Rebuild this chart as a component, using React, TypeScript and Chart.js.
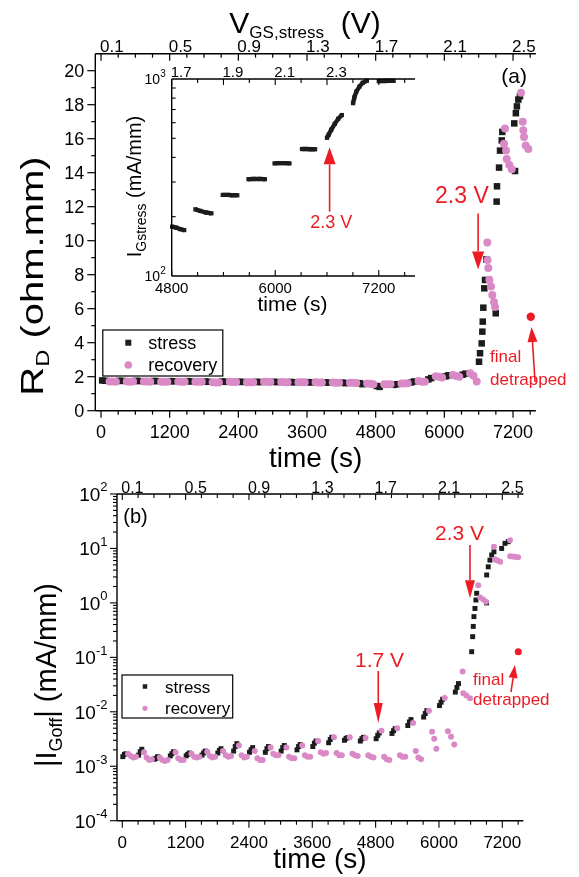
import React, { useEffect, useRef } from 'react';
import { Chart, registerables } from 'chart.js';

Chart.register(...registerables);

const FONT_FAMILY = '"Liberation Sans", Arial, Helvetica, sans-serif';
const INK = '#000000';
const STRESS_COLOR = '#1c1c1c';
const RECOVERY_COLOR = '#d98ac6';
const RED = '#ed1c24';

// ---------- axis ticks / labels ----------
const timeTicks = [0, 1200, 2400, 3600, 4800, 6000, 7200];
const voltTicks = [0.1, 0.5, 0.9, 1.3, 1.7, 2.1, 2.5];
const rdTicks = [0, 2, 4, 6, 8, 10, 12, 14, 16, 18, 20];
const ioffDecades = [-4, -3, -2, -1, 0, 1, 2];
const insetTimeTicks = [4800, 6000, 7200];
const insetVoltTicks = [1.7, 1.9, 2.1, 2.3];
const insetDecades = [2, 3];

// ---------- panel (a): R_D (ohm.mm) vs time (s) ----------
const stressTop: [number, number][] = [
  [20, 1.78], [70, 1.76], [320, 1.76], [370, 1.75], [620, 1.76], [670, 1.74], [920, 1.75], [970, 1.74],
  [1220, 1.74], [1270, 1.73], [1520, 1.74], [1570, 1.72], [1820, 1.72], [1870, 1.7], [2120, 1.72], [2170, 1.7],
  [2420, 1.7], [2470, 1.69], [2720, 1.7], [2770, 1.68], [3020, 1.7], [3070, 1.68], [3320, 1.69], [3370, 1.67],
  [3620, 1.68], [3670, 1.66], [3920, 1.67], [3970, 1.65], [4220, 1.65], [4270, 1.62], [4520, 1.62], [4570, 1.56],
  [4820, 1.45], [4870, 1.4], [5120, 1.52], [5170, 1.56], [5420, 1.66], [5470, 1.72], [5720, 1.84], [5770, 1.92],
  [6020, 2.02], [6070, 2.08], [6320, 2.12], [6370, 2.18],
  [6606, 2.88], [6624, 3.38], [6653, 3.96], [6664, 4.65], [6671, 5.24], [6681, 6.06], [6698, 7.2], [6711, 7.69], [6735, 8.9],
  [6898, 5.73], [6914, 12.3], [6920, 13.2], [6956, 14.3], [6973, 15.3], [7003, 15.9], [7013, 16.4],
  [7236, 14.1], [7222, 16.9], [7250, 17.5], [7268, 17.9], [7293, 18.3], [7322, 18.5],
];
const recoveryTop: [number, number][] = [
  [150, 1.72], [205, 1.72], [260, 1.71], [450, 1.72], [505, 1.71], [560, 1.72], [750, 1.72], [805, 1.72], [860, 1.71],
  [1050, 1.71], [1105, 1.7], [1160, 1.7], [1350, 1.72], [1405, 1.71], [1460, 1.71], [1650, 1.71], [1705, 1.7], [1760, 1.7],
  [1950, 1.67], [2005, 1.66], [2060, 1.66], [2250, 1.7], [2305, 1.69], [2360, 1.69], [2550, 1.68], [2605, 1.67], [2660, 1.67],
  [2850, 1.7], [2905, 1.7], [2960, 1.69], [3150, 1.69], [3205, 1.68], [3260, 1.68], [3450, 1.68], [3505, 1.67], [3560, 1.67],
  [3750, 1.67], [3805, 1.66], [3860, 1.66], [4050, 1.66], [4105, 1.65], [4160, 1.65], [4350, 1.65], [4405, 1.64], [4460, 1.63],
  [4650, 1.6], [4705, 1.58], [4760, 1.56], [4950, 1.55], [5005, 1.55], [5060, 1.56], [5250, 1.6], [5305, 1.6], [5360, 1.62],
  [5550, 1.74], [5605, 1.71], [5660, 1.7], [5850, 2.02], [5905, 2.0], [5960, 1.96], [6150, 2.1], [6205, 2.04], [6260, 2.0],
  [6450, 2.2], [6510, 2.05], [6566, 1.72],
  [6751, 9.9], [6755, 8.86], [6768, 8.4], [6786, 7.7], [6816, 7.3], [6838, 6.8], [6868, 6.4], [6886, 6.1],
  [7060, 16.6], [7043, 15.7], [7078, 15.3], [7090, 14.8], [7136, 14.45], [7178, 14.2],
  [7340, 18.7], [7370, 17.0], [7380, 16.5], [7392, 16.1], [7422, 15.6], [7468, 15.4],
];
const detrappedTop: [number, number][] = [[7510, 5.53]];

// ---------- inset: I_Gstress (mA/mm) during stress ----------
const insetStressSegments: [number, number][][] = [
  [[4805, 178], [4850, 176], [4900, 173], [4945, 171]],
  [[5075, 218], [5130, 214], [5200, 210], [5260, 208]],
  [[5392, 258], [5450, 258], [5500, 257], [5560, 257]],
  [[5690, 310], [5750, 311], [5820, 311], [5880, 310]],
  [[5992, 373], [6050, 374], [6110, 374], [6165, 373]],
  [[6310, 441], [6360, 441], [6410, 440], [6462, 440]],
  [[6600, 503], [6620, 522], [6650, 553], [6690, 592], [6730, 628], [6772, 656]],
  [[6902, 754], [6917, 807], [6940, 863], [6975, 914], [7014, 957], [7062, 980]],
  [[7200, 975], [7260, 977], [7320, 978], [7372, 978]],
];

// ---------- panel (b): |I_Goff| (mA/mm) vs time (s) ----------
const stressBottom: [number, number][] = [
  [10, 1.5e-3], [40, 1.65e-3], [70, 1.7e-3], [310, 1.6e-3], [340, 1.85e-3], [370, 2.05e-3],
  [610, 1.35e-3], [640, 1.4e-3], [670, 1.5e-3], [910, 1.55e-3], [940, 1.7e-3], [970, 1.85e-3],
  [1210, 1.55e-3], [1240, 1.65e-3], [1270, 1.75e-3], [1510, 1.6e-3], [1540, 1.75e-3], [1570, 1.9e-3],
  [1810, 1.75e-3], [1840, 1.95e-3], [1870, 2.1e-3], [2110, 1.9e-3], [2140, 2.3e-3], [2170, 2.6e-3],
  [2410, 1.8e-3], [2440, 2.0e-3], [2470, 2.2e-3], [2710, 1.8e-3], [2740, 2.1e-3], [2770, 2.3e-3],
  [3010, 1.9e-3], [3040, 2.2e-3], [3070, 2.4e-3], [3310, 2.0e-3], [3340, 2.3e-3], [3370, 2.5e-3],
  [3610, 2.3e-3], [3640, 2.65e-3], [3670, 2.9e-3], [3910, 2.7e-3], [3940, 3.1e-3], [3970, 3.4e-3],
  [4210, 3.0e-3], [4240, 3.25e-3], [4270, 3.35e-3], [4510, 2.9e-3], [4540, 3.2e-3], [4570, 3.4e-3],
  [4810, 3.2e-3], [4840, 3.7e-3], [4870, 4.1e-3], [5110, 4.0e-3], [5140, 4.5e-3], [5170, 4.9e-3],
  [5410, 5.6e-3], [5440, 6.5e-3], [5470, 7.2e-3], [5710, 8.0e-3], [5740, 9.3e-3], [5770, 1.05e-2],
  [6010, 1.3e-2], [6040, 1.5e-2], [6070, 1.7e-2], [6310, 2.3e-2], [6340, 2.8e-2], [6370, 3.3e-2],
  [6620, 0.127], [6639, 0.24], [6650, 0.37], [6663, 0.56], [6682, 0.79], [6701, 1.13], [6715, 1.5],
  [6900, 1.0], [6904, 3.26], [6934, 4.6], [6966, 6.1], [6999, 7.6], [7042, 8.7],
  [7188, 10], [7251, 12.4], [7313, 13.3],
];
const recoveryBottom: [number, number][] = [
  [110, 1.7e-3], [160, 1.55e-3], [210, 1.45e-3], [260, 1.5e-3],
  [410, 1.8e-3], [460, 1.45e-3], [510, 1.3e-3], [560, 1.35e-3],
  [710, 1.45e-3], [760, 1.3e-3], [810, 1.25e-3], [860, 1.3e-3],
  [1010, 1.8e-3], [1060, 1.4e-3], [1110, 1.3e-3], [1160, 1.3e-3],
  [1310, 1.7e-3], [1360, 1.5e-3], [1410, 1.45e-3], [1460, 1.5e-3],
  [1610, 1.85e-3], [1660, 1.55e-3], [1710, 1.45e-3], [1760, 1.5e-3],
  [1910, 1.9e-3], [1960, 1.6e-3], [2010, 1.5e-3], [2060, 1.55e-3],
  [2210, 2.4e-3], [2260, 1.6e-3], [2310, 1.45e-3], [2360, 1.5e-3],
  [2510, 1.9e-3], [2560, 1.4e-3], [2610, 1.3e-3], [2660, 1.3e-3],
  [2810, 2.2e-3], [2860, 1.7e-3], [2910, 1.6e-3], [2960, 1.6e-3],
  [3110, 2.2e-3], [3160, 1.5e-3], [3210, 1.4e-3], [3260, 1.4e-3],
  [3410, 2.4e-3], [3460, 1.6e-3], [3510, 1.5e-3], [3560, 1.5e-3],
  [3710, 2.9e-3], [3760, 1.8e-3], [3810, 1.7e-3], [3860, 1.75e-3],
  [4010, 3.4e-3], [4060, 1.75e-3], [4110, 1.6e-3], [4160, 1.6e-3],
  [4310, 3.4e-3], [4360, 1.7e-3], [4410, 1.6e-3], [4460, 1.55e-3],
  [4610, 3.3e-3], [4660, 1.6e-3], [4710, 1.5e-3], [4760, 1.45e-3],
  [4910, 4.5e-3], [4960, 1.5e-3], [5010, 1.35e-3], [5060, 1.3e-3],
  [5210, 5.0e-3], [5260, 1.6e-3], [5310, 1.5e-3], [5360, 1.5e-3],
  [5510, 6.2e-3], [5560, 1.9e-3], [5610, 1.45e-3], [5660, 1.35e-3],
  [5810, 1.05e-2], [5870, 4.3e-3], [5910, 3.2e-3], [5950, 2.1e-3],
  [6110, 1.8e-2], [6170, 4.4e-3], [6230, 3.5e-3], [6290, 2.5e-3],
  [6449, 5.5e-2], [6461, 2.2e-2], [6520, 2.0e-2], [6588, 1.78e-2],
  [6745, 2.1], [6780, 1.25], [6840, 1.15], [6890, 1.05],
  [7042, 10.8], [7065, 6.3], [7110, 6.0], [7160, 5.7],
  [7346, 14.2], [7350, 7.2], [7400, 7.1], [7450, 7.0], [7500, 6.9],
];
const detrappedBottom: [number, number][] = [[7503, 0.127]];

// ---------- helpers ----------
const font = (size: number) => `${size}px ${FONT_FAMILY}`;
type Part = { s: string; size: number; dy?: number };

function seg(ctx: CanvasRenderingContext2D, x1: number, y1: number, x2: number, y2: number) {
  ctx.beginPath();
  ctx.moveTo(x1, y1);
  ctx.lineTo(x2, y2);
  ctx.stroke();
}
function label(ctx: CanvasRenderingContext2D, s: string, x: number, y: number, size: number, align: CanvasTextAlign = 'center', color = INK) {
  ctx.font = font(size);
  ctx.fillStyle = color;
  ctx.textAlign = align;
  ctx.textBaseline = 'alphabetic';
  ctx.fillText(s, x, y);
}
function rich(ctx: CanvasRenderingContext2D, parts: Part[], x: number, y: number, align: 'left' | 'center' | 'right', color = INK) {
  let w = 0;
  parts.forEach((p) => { ctx.font = font(p.size); w += ctx.measureText(p.s).width; });
  let cx = align === 'left' ? x : align === 'center' ? x - w / 2 : x - w;
  ctx.textAlign = 'left';
  ctx.textBaseline = 'alphabetic';
  ctx.fillStyle = color;
  parts.forEach((p) => {
    ctx.font = font(p.size);
    ctx.fillText(p.s, cx, y + (p.dy || 0));
    cx += ctx.measureText(p.s).width;
  });
}
function richRotated(ctx: CanvasRenderingContext2D, parts: Part[], baselineX: number, centerY: number, stretch = 1) {
  ctx.save();
  ctx.translate(baselineX, centerY);
  ctx.rotate(-Math.PI / 2);
  ctx.scale(stretch, 1);
  rich(ctx, parts, 0, 0, 'center');
  ctx.restore();
}
function powLabel(ctx: CanvasRenderingContext2D, exp: number, xRight: number, yMid: number, size: number, supSize: number) {
  ctx.font = font(size);
  const wb = ctx.measureText('10').width;
  ctx.font = font(supSize);
  const sup = String(exp);
  const ws = ctx.measureText(sup).width;
  const x0 = xRight - ws - wb;
  const base = yMid + size * 0.36;
  ctx.textAlign = 'left';
  ctx.textBaseline = 'alphabetic';
  ctx.fillStyle = INK;
  ctx.font = font(size);
  ctx.fillText('10', x0, base);
  ctx.font = font(supSize);
  ctx.fillText(sup, x0 + wb, base - size * 0.5);
}
function arrow(ctx: CanvasRenderingContext2D, x1: number, y1: number, x2: number, y2: number, headLen: number, headW: number) {
  const ang = Math.atan2(y2 - y1, x2 - x1);
  const bx = x2 - headLen * Math.cos(ang);
  const by = y2 - headLen * Math.sin(ang);
  ctx.strokeStyle = RED;
  ctx.fillStyle = RED;
  ctx.lineWidth = 1.6;
  seg(ctx, x1, y1, bx, by);
  const px = (-Math.sin(ang) * headW) / 2;
  const py = (Math.cos(ang) * headW) / 2;
  ctx.beginPath();
  ctx.moveTo(x2, y2);
  ctx.lineTo(bx + px, by + py);
  ctx.lineTo(bx - px, by - py);
  ctx.closePath();
  ctx.fill();
}
function legendBox(ctx: CanvasRenderingContext2D, x: number, y: number, w: number, h: number, sq: number, cr: number, size: number, row1: number, row2: number, markX: number, textX: number) {
  ctx.strokeStyle = INK;
  ctx.lineWidth = 1.2;
  ctx.strokeRect(x, y, w, h);
  ctx.fillStyle = STRESS_COLOR;
  ctx.fillRect(markX - sq / 2, row1 - sq / 2, sq, sq);
  ctx.fillStyle = RECOVERY_COLOR;
  ctx.beginPath();
  ctx.arc(markX, row2, cr, 0, Math.PI * 2);
  ctx.fill();
  label(ctx, 'stress', textX, row1 + size * 0.36, size, 'left');
  label(ctx, 'recovery', textX, row2 + size * 0.36, size, 'left');
}

const pts = (arr: [number, number][]) => arr.map(([x, y]) => ({ x, y }));
function scatterSet(arr: [number, number][], style: string, radius: number, color: string, order: number) {
  return {
    data: pts(arr),
    pointStyle: style,
    pointRadius: radius,
    pointHoverRadius: radius,
    backgroundColor: color,
    borderColor: color,
    borderWidth: 0,
    showLine: false,
    order,
    clip: false,
  };
}

const T_MIN = -100;
const T_MAX = 7600;
const voltOf = (t: number) => 0.1 + t / 3000;

// ---------- panel (a) frame ----------
const topFrame = {
  id: 'topFrame',
  afterDraw(chart: any) {
    const { ctx, chartArea: a, scales } = chart;
    const sx = scales.x, sv = scales.v, sy = scales.y;
    const P = (t: number, r: number) => [sx.getPixelForValue(t), sy.getPixelForValue(r)];
    ctx.save();
    ctx.strokeStyle = INK;
    ctx.lineWidth = 1.4;
    seg(ctx, a.left, a.top, a.left, a.bottom);
    seg(ctx, a.left, a.bottom, a.right, a.bottom);
    seg(ctx, a.left, a.top, a.right, a.top);
    ctx.lineWidth = 1.2;
    for (let t = 0; t <= 7500; t += 300) {
      const px = sx.getPixelForValue(t);
      seg(ctx, px, a.bottom, px, a.bottom + (timeTicks.includes(t) ? 7 : 4));
    }
    for (let r = 0; r <= 20; r += 1) {
      const py = sy.getPixelForValue(r);
      seg(ctx, a.left - (r % 2 === 0 ? 8 : 4), py, a.left, py);
    }
    for (let k = 1; k <= 26; k++) {
      const px = sv.getPixelForValue(k / 10);
      seg(ctx, px, a.top, px, a.top + ((k - 1) % 4 === 0 ? 7 : 4));
    }
    timeTicks.forEach((t) => label(ctx, String(t), sx.getPixelForValue(t), a.bottom + 27, 18));
    rdTicks.forEach((r) => label(ctx, String(r), a.left - 11, sy.getPixelForValue(r) + 6.5, 18, 'right'));
    voltTicks.forEach((v) => label(ctx, v.toFixed(1), sv.getPixelForValue(v) - 1, a.top - 1.5, 17, 'left'));

    rich(ctx, [{ s: 'V', size: 30 }, { s: 'GS,stress', size: 17, dy: 5 }, { s: '  (V)', size: 30 }], 305, 33, 'center');
    richRotated(ctx, [{ s: 'R', size: 32 }, { s: 'D', size: 19, dy: 6 }, { s: ' (ohm.mm)', size: 32 }], 43, 276, 1.25);
    label(ctx, 'time (s)', (a.left + a.right) / 2, 467, 28);
    label(ctx, '(a)', P(7218, 0)[0], a.top + 29, 21);

    // annotations
    let p = P(5837, 12.22);
    label(ctx, '2.3 V', p[0], p[1], 23, 'left', RED);
    const a1 = P(6590, 11.6), a2 = P(6590, 8.3);
    arrow(ctx, a1[0], a1[1], a2[0], a2[1], 18, 12);
    const f1 = P(7585, 1.69), f2 = P(7524, 4.92);
    arrow(ctx, f1[0], f1[1], f2[0], f2[1], 15, 10);
    p = P(6798, 2.86);
    label(ctx, 'final', p[0], p[1], 17, 'left', RED);
    p = P(6798, 1.51);
    ctx.save();
    ctx.beginPath();
    ctx.rect(0, 0, 567, 877);
    ctx.clip();
    label(ctx, 'detrapped', p[0], p[1], 17, 'left', RED);
    ctx.restore();

    legendBox(ctx, a.left + 7.5, 330, 120, 46, 6, 3.8, 18, 342.7, 365, a.left + 33, a.left + 53);
    ctx.restore();
  },
};

// ---------- inset frame ----------
const insetFrame = {
  id: 'insetFrame',
  afterDraw(chart: any) {
    const { ctx, chartArea: a, scales } = chart;
    const sx = scales.x, sv = scales.v, sy = scales.y;
    ctx.save();
    ctx.strokeStyle = INK;
    ctx.lineWidth = 1.4;
    seg(ctx, a.left, a.top, a.left, a.bottom);
    seg(ctx, a.left, a.bottom, a.right, a.bottom);
    seg(ctx, a.left, a.top, a.right, a.top);
    ctx.lineWidth = 1.1;
    for (let m = 2; m <= 9; m++) {
      const py = sy.getPixelForValue(m * 100);
      seg(ctx, a.left, py, a.left + 4, py);
    }
    for (let t = 4800; t <= 7500; t += 300) {
      const px = sx.getPixelForValue(t);
      seg(ctx, px, a.bottom, px, a.bottom - (insetTimeTicks.includes(t) ? 6 : 4));
    }
    for (let k = 17; k <= 26; k++) {
      const px = sv.getPixelForValue(k / 10);
      seg(ctx, px, a.top, px, a.top + ((k - 17) % 2 === 0 ? 6 : 4));
    }
    insetTimeTicks.forEach((t) => label(ctx, String(t), sx.getPixelForValue(t), a.bottom + 17, 15));
    insetVoltTicks.forEach((v) => label(ctx, v.toFixed(1), sv.getPixelForValue(v) - 1, a.top - 2, 15, 'left'));
    insetDecades.forEach((e) => powLabel(ctx, e, a.left - 6, sy.getPixelForValue(Math.pow(10, e)), 14, 10));
    label(ctx, 'time (s)', 292.5, a.bottom + 35, 21);
    richRotated(ctx, [{ s: 'I', size: 20 }, { s: 'Gstress', size: 14, dy: 5 }, { s: ' (mA/mm)', size: 20 }], 140.5, 186.5);

    const t = sx.getPixelForValue(6406);
    label(ctx, '2.3 V', t, sy.getPixelForValue(175), 18, 'left', RED);
    const ax = sx.getPixelForValue(6630);
    arrow(ctx, ax, sy.getPixelForValue(212), ax, sy.getPixelForValue(450), 17, 12);
    ctx.restore();
  },
};

// ---------- panel (b) frame ----------
const bottomFrame = {
  id: 'bottomFrame',
  afterDraw(chart: any) {
    const { ctx, chartArea: a, scales } = chart;
    const sx = scales.x, sv = scales.v, sy = scales.y;
    const P = (t: number, i: number) => [sx.getPixelForValue(t), sy.getPixelForValue(i)];
    ctx.save();
    ctx.strokeStyle = INK;
    ctx.lineWidth = 1.4;
    seg(ctx, a.left, a.top, a.left, a.bottom);
    seg(ctx, a.left, a.bottom, a.right, a.bottom);
    seg(ctx, a.left, a.top, a.right, a.top);
    ctx.lineWidth = 1.1;
    for (let t = 0; t <= 7500; t += 300) {
      const px = sx.getPixelForValue(t);
      seg(ctx, px, a.bottom, px, a.bottom + (timeTicks.includes(t) ? 7 : 4));
    }
    ioffDecades.forEach((e) => {
      const py = sy.getPixelForValue(Math.pow(10, e));
      seg(ctx, a.left - 7, py, a.left, py);
      if (e < 2) {
        for (let m = 2; m <= 9; m++) {
          const q = sy.getPixelForValue(m * Math.pow(10, e));
          seg(ctx, a.left - 4, q, a.left, q);
        }
      }
    });
    for (let k = 1; k <= 26; k++) {
      const px = sv.getPixelForValue(k / 10);
      seg(ctx, px, a.top, px, a.top + ((k - 1) % 4 === 0 ? 6 : 4));
    }
    timeTicks.forEach((t) => label(ctx, String(t), sx.getPixelForValue(t), a.bottom + 27, 17));
    voltTicks.forEach((v) => label(ctx, v.toFixed(1), sv.getPixelForValue(v) - 1, a.top - 1.5, 16, 'left'));
    ioffDecades.forEach((e) => powLabel(ctx, e, a.left - 9.5, sy.getPixelForValue(Math.pow(10, e)), 19, 13));

    richRotated(ctx, [{ s: '|I', size: 29 }, { s: 'Goff', size: 18, dy: 6 }, { s: '| (mA/mm)', size: 29 }], 56, 675);
    label(ctx, 'time (s)', 320, 868, 28);
    label(ctx, '(b)', a.left + 18.5, a.top + 29, 20);

    let p = P(4409, 0.0665);
    label(ctx, '1.7 V', p[0], p[1], 21, 'left', RED);
    let q1 = P(4850, 0.0562), q2 = P(4850, 0.00622);
    arrow(ctx, q1[0], q1[1], q2[0], q2[1], 20, 9);
    p = P(5925, 14.3);
    label(ctx, '2.3 V', p[0], p[1], 21, 'left', RED);
    q1 = P(6588, 11.6); q2 = P(6588, 1.215);
    arrow(ctx, q1[0], q1[1], q2[0], q2[1], 18, 10);
    p = P(6645, 0.031);
    label(ctx, 'final', p[0], p[1], 17, 'left', RED);
    p = P(6645, 0.01334);
    label(ctx, 'detrapped', p[0], p[1], 17, 'left', RED);
    q1 = P(7365, 0.0231); q2 = P(7440, 0.0724);
    arrow(ctx, q1[0], q1[1], q2[0], q2[1], 13, 9);

    legendBox(ctx, a.left + 5, 675, 110.7, 43, 4.5, 2.6, 17, 686.5, 708.3, a.left + 28, a.left + 48);
    ctx.restore();
  },
};

function baseOptions(padding: any) {
  return {
    responsive: false,
    animation: false,
    events: [],
    layout: { padding },
    plugins: { legend: { display: false }, tooltip: { enabled: false } },
  };
}

export default function App() {
  const topRef = useRef<HTMLCanvasElement>(null);
  const insetRef = useRef<HTMLCanvasElement>(null);
  const bottomRef = useRef<HTMLCanvasElement>(null);

  useEffect(() => {
    const charts: Chart[] = [];
    charts.push(
      new Chart(topRef.current as HTMLCanvasElement, {
        type: 'scatter',
        data: {
          datasets: [
            scatterSet(detrappedTop, 'circle', 4.2, RED, -1),
            scatterSet(recoveryTop, 'circle', 4, RECOVERY_COLOR, 0),
            scatterSet(stressTop, 'rect', 4.6, STRESS_COLOR, 1),
          ] as any,
        },
        options: {
          ...baseOptions({ left: 95.3, top: 53.7, right: 43.1, bottom: 466.3 }),
          scales: {
            x: { type: 'linear', min: T_MIN, max: T_MAX, display: false },
            v: { type: 'linear', axis: 'x', min: voltOf(T_MIN), max: voltOf(T_MAX), display: false },
            y: { type: 'linear', min: 0, max: 21, display: false },
          },
        } as any,
        plugins: [topFrame],
      })
    );
    charts.push(
      new Chart(insetRef.current as HTMLCanvasElement, {
        type: 'scatter',
        data: {
          datasets: insetStressSegments.map((s) => ({
            data: pts(s),
            showLine: true,
            borderColor: STRESS_COLOR,
            borderWidth: 4.4,
            borderCapStyle: 'butt',
            pointStyle: 'rect',
            pointRadius: 3,
            backgroundColor: STRESS_COLOR,
            pointBorderWidth: 0,
            clip: false,
          })) as any,
        },
        options: {
          ...baseOptions({ left: 171.7, top: 79, right: 164, bottom: 601 }),
          scales: {
            x: { type: 'linear', min: 4800, max: 7620, display: false },
            v: { type: 'linear', axis: 'x', min: voltOf(4800), max: voltOf(7620), display: false },
            y: { type: 'logarithmic', min: 100, max: 1000, display: false },
          },
        } as any,
        plugins: [insetFrame],
      })
    );
    charts.push(
      new Chart(bottomRef.current as HTMLCanvasElement, {
        type: 'scatter',
        data: {
          datasets: [
            scatterSet(detrappedBottom, 'circle', 3.5, RED, -1),
            scatterSet(recoveryBottom, 'circle', 3, RECOVERY_COLOR, 0),
            scatterSet(stressBottom, 'rect', 3.5, STRESS_COLOR, 1),
          ] as any,
        },
        options: {
          ...baseOptions({ left: 117, top: 494, right: 55.6, bottom: 56.3 }),
          scales: {
            x: { type: 'linear', min: T_MIN, max: T_MAX, display: false },
            v: { type: 'linear', axis: 'x', min: voltOf(T_MIN), max: voltOf(T_MAX), display: false },
            y: { type: 'logarithmic', min: 1e-4, max: 100, display: false },
          },
        } as any,
        plugins: [bottomFrame],
      })
    );
    return () => charts.forEach((c) => c.destroy());
  }, []);

  const cs: React.CSSProperties = { position: 'absolute', left: 0, top: 0 };
  return (
    <div style={{ position: 'absolute', left: 0, top: 0, width: 579, height: 877, background: '#ffffff' }}>
      <canvas ref={topRef} width={579} height={877} style={cs} />
      <canvas ref={insetRef} width={579} height={877} style={cs} />
      <canvas ref={bottomRef} width={579} height={877} style={cs} />
    </div>
  );
}
